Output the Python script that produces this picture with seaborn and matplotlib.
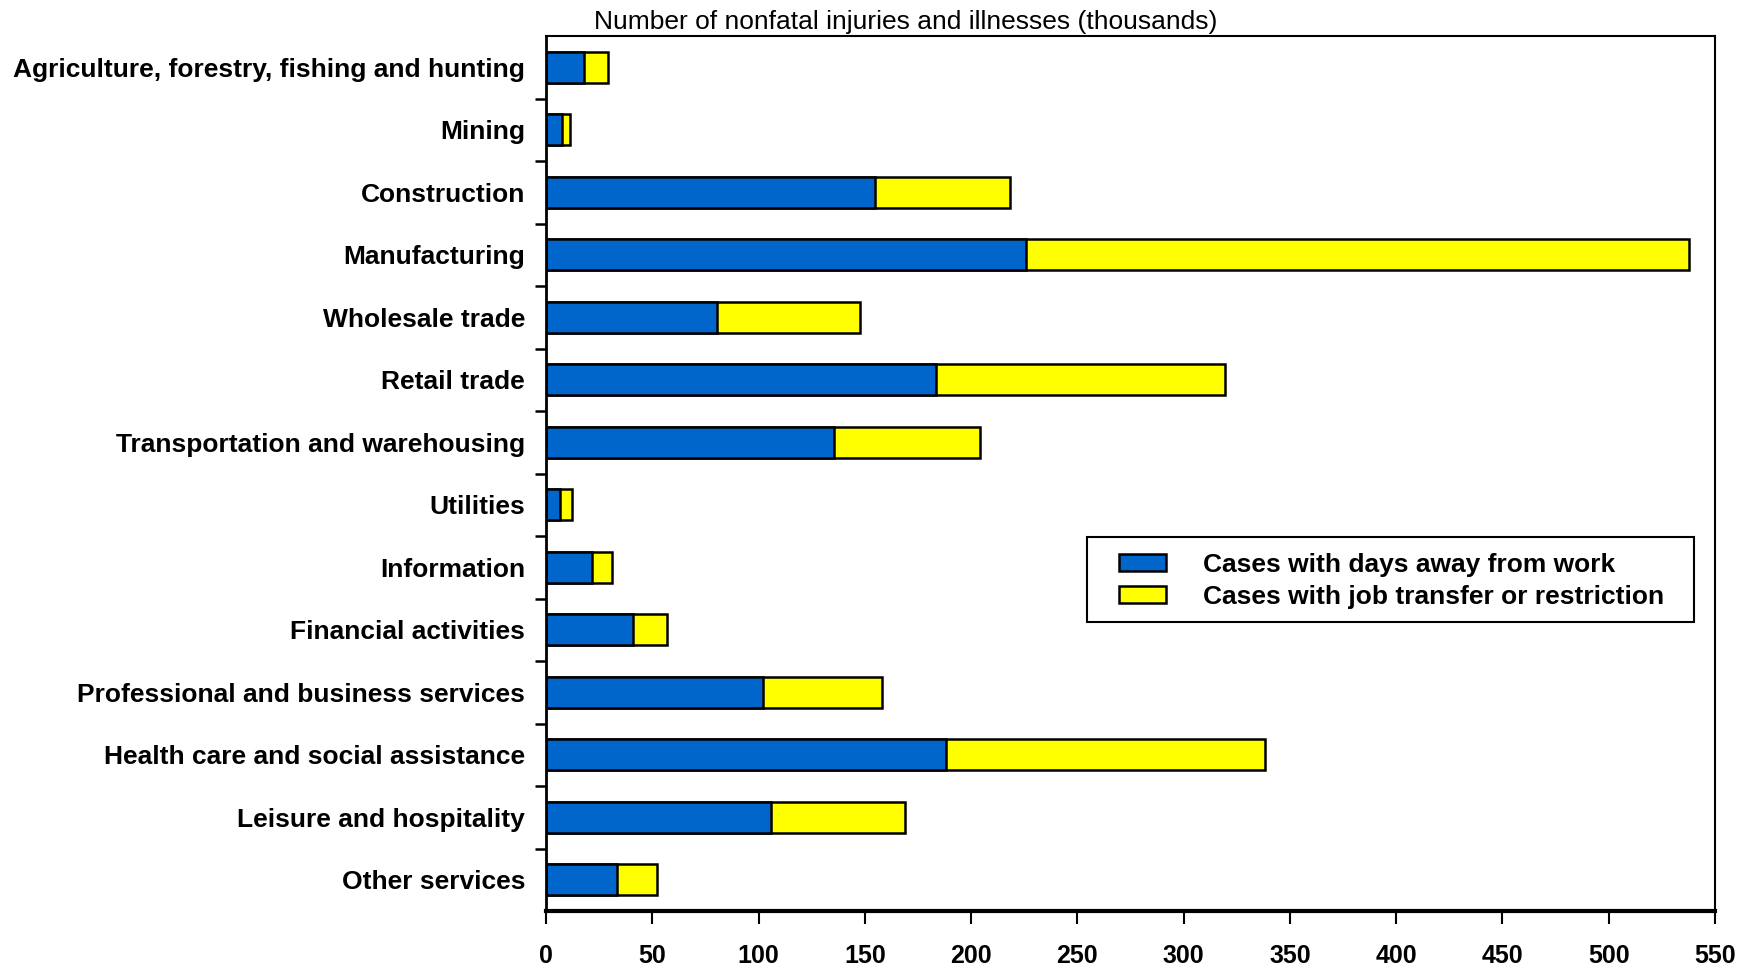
import matplotlib
matplotlib.use("Agg")
import matplotlib.pyplot as plt
from matplotlib.patches import Rectangle
import seaborn as sns
import pandas as pd
import numpy as np

categories = [
    "Agriculture, forestry, fishing and hunting",
    "Mining",
    "Construction",
    "Manufacturing",
    "Wholesale trade",
    "Retail trade",
    "Transportation and warehousing",
    "Utilities",
    "Information",
    "Financial activities",
    "Professional and business services",
    "Health care and social assistance",
    "Leisure and hospitality",
    "Other services",
]
days_away = [17.9, 7.4, 154.7, 225.9, 80.6, 183.5, 135.3, 6.7, 21.8, 40.9, 102.2, 188.0, 105.8, 33.3]
job_transfer = [11.3, 3.9, 63.5, 311.9, 66.9, 136.0, 69.1, 5.5, 9.3, 15.9, 55.8, 150.4, 63.3, 18.9]
xticks = [0, 50, 100, 150, 200, 250, 300, 350, 400, 450, 500, 550]

series_names = ["Cases with days away from work", "Cases with job transfer or restriction"]
title = "Number of nonfatal injuries and illnesses (thousands)"

df = pd.DataFrame({
    "category": categories,
    "days": days_away,
    "transfer": job_transfer,
})
df["total"] = df["days"] + df["transfer"]

sns.set_theme(style="white")
plt.rcParams["font.family"] = ["Liberation Sans", "DejaVu Sans"]
plt.rcParams["text.color"] = "black"
plt.rcParams["xtick.color"] = "black"
plt.rcParams["ytick.color"] = "black"

W, H = 1750, 969
fig = plt.figure(figsize=(W / 100, H / 100), dpi=100)
ax = fig.add_axes([546 / W, 1 - 911 / H, (1715 - 546) / W, (911 - 36) / H])

BLUE = "#0066CC"
YELLOW = "#FFFF00"

sns.barplot(data=df, x="total", y="category", orient="h", color=YELLOW,
            edgecolor="black", linewidth=1.8, width=0.5, ax=ax,
            label=series_names[1], saturation=1)
sns.barplot(data=df, x="days", y="category", orient="h", color=BLUE,
            edgecolor="black", linewidth=1.8, width=0.5, ax=ax,
            label=series_names[0], saturation=1)

ax.set_xlim(0, 550)
ax.set_ylim(len(categories) - 0.5, -0.5)
ax.set_xticks(xticks)
ax.set_xticklabels([str(t) for t in xticks], fontsize=18, fontweight="bold", color="black")
ax.set_yticks(range(len(categories)))
ax.set_yticklabels(categories, fontsize=19, fontweight="bold", color="black")
ax.set_yticks(np.arange(0.5, len(categories) - 0.5, 1), minor=True)
ax.tick_params(axis="y", which="major", length=0, pad=15)
ax.tick_params(axis="y", which="minor", length=8, width=1.8, direction="out", color="black", left=True)
ax.tick_params(axis="x", which="major", length=9, width=1.5, direction="out", color="black",
               bottom=True, pad=15, labelcolor="black")
ax.set_xlabel("")
ax.set_ylabel("")
ax.grid(False)

for side, lw in [("left", 2.0), ("right", 1.5), ("top", 1.5), ("bottom", 3.0)]:
    ax.spines[side].set_visible(True)
    ax.spines[side].set_color("black")
    ax.spines[side].set_linewidth(lw)

# legend: frameless entries plus a separate box frame
handles, labels = ax.get_legend_handles_labels()
order = [labels.index(series_names[0]), labels.index(series_names[1])]
leg = ax.legend([handles[i] for i in order], [labels[i] for i in order],
                loc="upper left", bbox_to_anchor=(1119 / W, 1 - 553 / H),
                bbox_transform=fig.transFigure,
                frameon=False, prop={"size": 19, "weight": "bold"},
                handlelength=1.78, handleheight=0.6, handletextpad=1.4,
                borderpad=0, labelspacing=0.3, borderaxespad=0)
for t in leg.get_texts():
    t.set_color("black")
leg.set_zorder(10)
frame = Rectangle((1087 / W, 1 - 622 / H), (1694 - 1087) / W, (622 - 537) / H,
                  transform=fig.transFigure, fill=True, facecolor="white",
                  edgecolor="black", linewidth=1.5, zorder=6, clip_on=False)
ax.add_patch(frame)

fig.text(906 / W, 1 - 22 / H, title, ha="center", va="center", fontsize=19, color="black")

fig.savefig("out.png", dpi=100, facecolor="white")
